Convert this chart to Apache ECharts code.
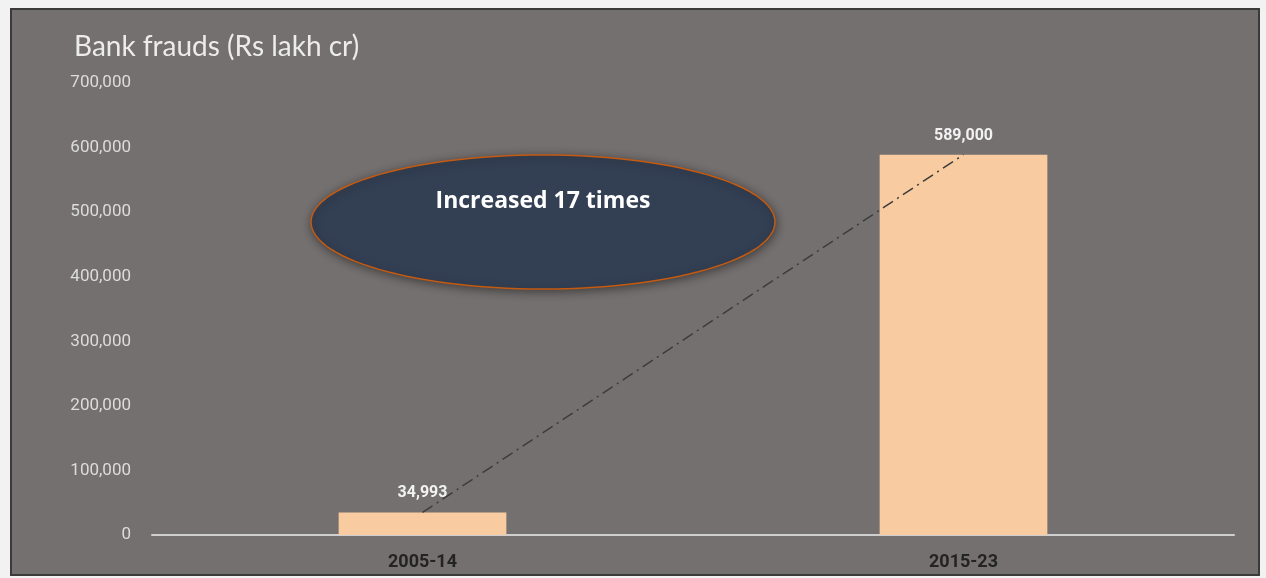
<!DOCTYPE html>
<html>
<head>
<meta charset="utf-8">
<script src="https://cdn.jsdelivr.net/npm/echarts@6/dist/echarts.min.js"></script>
<style>
  html, body { margin: 0; padding: 0; background: #f2f2f2; width: 1266px; height: 578px; overflow: hidden; }
  #frame { position: absolute; left: 10px; top: 8px; width: 1246px; height: 564px; border: 2px solid #3a3a3a; background: #757070; }
  #c { width: 1246px; height: 564px; }
</style>
</head>
<body>
<div id="frame"><div id="c"></div></div>
<script>
const categories = ['2005-14', '2015-23'];
const fraudValues = [34993, 589000];
const yTicks = { min: 0, max: 700000, interval: 100000 };
const titleText = 'Bank frauds (Rs lakh cr)';
const noteText = 'Increased 17 times';

const chart = echarts.init(document.getElementById('c'), null, { renderer: 'canvas' });
const narrow = 'Roboto, sans-serif';

// ellipse outline for the annotation
const ecx = 531, ecy = 212, erx = 232, ery = 67;
const ellipsePts = [];
for (let i = 0; i < 120; i++) {
  const t = i / 120 * Math.PI * 2;
  ellipsePts.push([ecx + erx * Math.cos(t), ecy + ery * Math.sin(t)]);
}

chart.setOption({
  backgroundColor: '#757070',
  animation: false,
  title: {
    text: titleText,
    left: 57, top: 18,
    textStyle: { color: '#ececec', fontSize: 28, fontWeight: 'normal', fontFamily: 'Lato, "Open Sans", sans-serif' }
  },
  grid: { left: 140, right: 24, top: 73, bottom: 39, containLabel: false },
  xAxis: {
    type: 'category',
    data: categories,
    axisLine: { lineStyle: { color: '#cfcfcf', width: 2 } },
    axisTick: { show: false },
    axisLabel: { color: '#232323', fontSize: 18, fontWeight: 'bold', fontFamily: narrow, margin: 18 }
  },
  yAxis: {
    type: 'value',
    min: yTicks.min, max: yTicks.max, interval: yTicks.interval,
    axisLine: { show: false },
    axisTick: { show: false },
    splitLine: { show: false },
    axisLabel: {
      color: '#dcdcdc', fontSize: 17, fontFamily: narrow, margin: 21,
      formatter: v => v.toLocaleString('en-US')
    }
  },
  series: [
    {
      type: 'bar',
      data: fraudValues,
      barWidth: '31%',
      itemStyle: { color: '#f8cba0' },
      label: {
        show: true, position: 'top', distance: 11,
        color: '#f2f2f2', fontSize: 16, fontWeight: 'bold', fontFamily: narrow,
        formatter: p => p.value.toLocaleString('en-US')
      },
      z: 2
    },
    {
      type: 'line',
      data: fraudValues,
      symbol: 'none',
      lineStyle: { color: '#3c3c3c', width: 1.5, type: [12, 5, 2, 5] },
      z: 3
    }
  ],
  graphic: [
    {
      type: 'polygon',
      shape: { points: ellipsePts },
      style: {
        fill: '#333f53', stroke: '#c55a11', lineWidth: 1.5,
        shadowBlur: 10, shadowColor: 'rgba(0,0,0,0.45)', shadowOffsetX: 1, shadowOffsetY: 2
      },
      z: 10
    },
    {
      type: 'text',
      x: ecx, y: 191,
      style: {
        text: noteText, fill: '#ffffff', fontSize: 23, fontWeight: 'bold',
        fontFamily: '"Open Sans", Lato, sans-serif', align: 'center', verticalAlign: 'middle'
      },
      z: 11
    }
  ]
});
</script>
</body>
</html>
